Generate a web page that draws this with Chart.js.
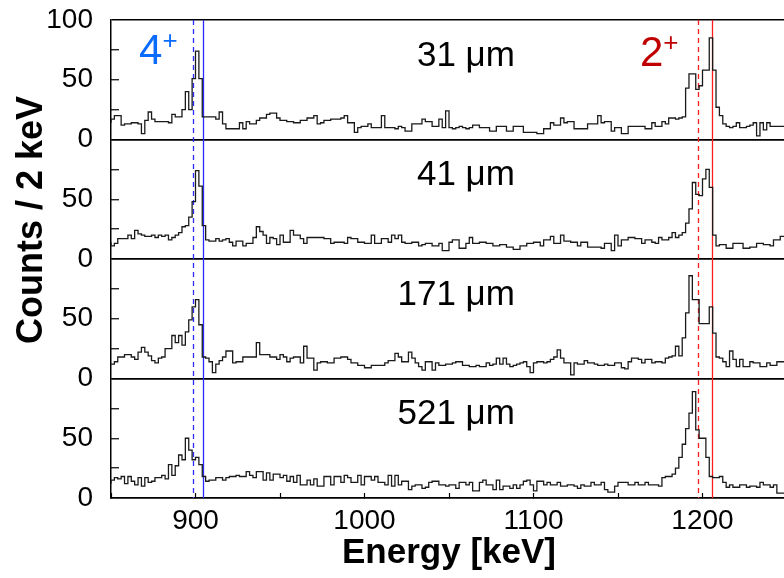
<!DOCTYPE html>
<html>
<head>
<meta charset="utf-8">
<script src="https://cdn.jsdelivr.net/npm/chart.js@4.4.1/dist/chart.umd.min.js"></script>
<style>
  html,body{margin:0;padding:0;background:#fff;}
  #wrap{width:784px;height:578px;overflow:hidden;position:relative;}
  #wrap canvas{position:absolute;left:0;top:0;}
</style>
</head>
<body>
<div id="wrap"><canvas id="chart" width="788" height="578"></canvas></div>
<script>
// bins of 2 keV from 850 keV
const E_START = 850;
const BIN = 2;

// counts per bin, one row = 10 bins
const t31 = [
  14,17,20,20,12,13,13,14,14,13,
  5,16,23,17,15,15,15,15,14,21,
  19,19,25,40,25,51,74,51,19,19,
  19,19,17,23,13,9,9,9,9,14,
  9,15,13,13,16,18,18,21,22,22,
  18,16,16,15,15,14,14,16,16,18,
  18,20,13,14,16,16,17,17,17,18,
  20,14,14,6,10,11,11,13,10,10,
  10,20,10,10,10,9,11,10,7,7,
  13,13,13,17,15,15,11,11,17,10,
  24,10,9,10,11,10,9,10,12,12,
  10,10,10,7,7,11,11,11,7,7,
  11,11,11,6,6,6,6,5,5,9,
  9,14,12,12,18,14,15,15,9,9,
  9,9,13,13,13,20,14,15,15,7,
  10,10,5,5,11,11,11,11,11,9,
  9,14,11,11,15,13,18,18,17,18,
  19,43,55,55,42,45,58,58,85,58,
  27,20,13,11,10,11,14,10,10,11,
  12,14,3,14,8,14,11,11,11,11
];
const t41 = [
  14,11,13,17,17,17,20,17,24,21,
  20,19,19,20,18,20,19,20,16,18,
  20,22,27,28,35,48,74,61,28,16,
  15,15,17,15,16,17,14,11,15,15,
  11,13,13,18,27,23,20,13,18,17,
  12,20,14,14,24,20,20,17,13,18,
  18,18,18,18,17,17,13,14,14,14,
  13,18,17,17,14,14,13,13,20,13,
  13,17,17,14,20,17,20,14,13,13,
  14,14,11,12,13,13,11,11,13,7,
  7,14,16,16,9,9,13,18,13,13,
  14,14,13,13,11,11,12,12,10,10,
  8,8,11,11,13,13,14,14,11,16,
  16,19,13,13,20,15,15,14,14,11,
  14,14,10,10,10,10,9,13,13,7,
  20,11,16,16,18,18,17,17,13,16,
  16,14,13,18,16,16,18,22,18,20,
  22,30,42,64,54,53,67,75,60,20,
  11,12,12,9,9,13,13,13,9,9,
  10,10,13,13,12,12,11,16,16,19
];
const t171 = [
  12,12,14,18,18,20,20,18,16,22,
  26,22,19,15,13,17,18,25,25,36,
  30,36,28,39,49,60,66,45,18,17,
  14,5,12,15,18,23,23,13,14,14,
  18,18,18,18,30,20,20,20,18,18,
  16,20,18,14,17,18,18,13,27,17,
  17,7,13,14,14,13,13,17,17,18,
  18,16,13,13,11,11,9,9,11,11,
  11,11,13,15,15,21,18,14,14,22,
  17,13,10,7,14,14,7,13,11,11,
  12,12,13,14,14,11,11,10,10,11,
  10,10,13,11,12,17,12,17,12,10,
  11,12,13,14,10,5,13,14,14,13,
  14,16,18,24,17,13,13,3,13,12,
  12,15,13,13,12,11,11,12,11,11,
  13,13,9,8,14,17,17,16,13,16,
  16,13,14,14,13,17,18,19,27,19,
  34,55,86,66,66,46,46,46,60,38,
  18,17,14,10,23,16,10,16,10,10,
  14,13,13,10,10,13,11,11,14,14
];
const t521 = [
  12,15,17,16,18,12,18,14,11,17,
  10,17,13,14,17,17,19,16,28,19,
  27,36,32,50,40,32,34,28,18,14,
  15,15,17,17,15,17,18,18,19,18,
  18,22,19,17,22,22,15,21,15,20,
  20,17,19,14,18,13,19,11,11,15,
  11,16,10,10,18,18,11,18,18,13,
  19,17,13,13,19,11,18,18,15,18,
  13,13,11,19,10,19,11,14,14,7,
  10,11,11,8,9,13,14,14,11,11,
  10,11,11,8,13,13,11,13,6,6,
  13,15,11,11,7,15,7,10,10,8,
  11,8,11,14,15,11,6,14,14,11,
  13,11,11,13,10,10,11,11,10,8,
  11,10,10,13,11,11,13,7,5,5,
  10,13,13,13,11,11,13,11,11,13,
  11,11,11,10,17,18,18,20,25,34,
  45,58,71,89,57,50,50,34,18,17,
  17,18,13,9,11,9,9,11,11,9,
  10,10,9,13,11,11,9,11,4,4
];

const panels = [t31, t41, t171, t521];
const panelLabels = ["31 μm", "41 μm", "171 μm", "521 μm"];
const yLabelTicks = [0, 50, 100];
const xLabelTicks = [900, 1000, 1100, 1200];
// 4+ and 2+ lines: dashed, solid
const lines4 = [898.4, 904.4];
const lines2 = [1197.5, 1205.6];

const FONT = "'Liberation Sans', Arial, sans-serif";
const BLUE = "#2a2aff";
const RED = "#ff1c1c";

function histo(arr){
  let pts = arr.map((v,i)=>({x:E_START+BIN*i, y:v}));
  pts.push({x:E_START+BIN*arr.length, y:arr[arr.length-1]});
  return pts;
}

function yScale(isTop){
  return {
    type:"linear", position:"left", stack:"panels", stackWeight:1,
    min:0, max:100,
    afterFit(s){ s.width = 111; s.paddingTop = 0; s.paddingBottom = 0; },
    ticks:{
      stepSize:25, autoSkip:false, padding:26, color:"#000",
      font:{size:28, family:FONT},
      callback:v => (yLabelTicks.includes(v) && (isTop || v!==100)) ? String(v) : ""
    },
    grid:{
      drawOnChartArea:true,
      color:c => (c.tick && (c.tick.value===0 || c.tick.value===100)) ? "#000" : "rgba(0,0,0,0)",
      lineWidth:1.5,
      tickLength:-8,
      tickColor:c => (c.tick && c.tick.value%100!==0) ? "#000" : "rgba(0,0,0,0)",
      tickWidth:1.2
    },
    border:{display:true, color:"#000", width:1.5}
  };
}

// vertical gamma lines
const markerPlugin = {
  id:"markers",
  beforeDatasetsDraw(chart){
    const {ctx, chartArea:a, scales:{x}} = chart;
    const all = [
      {e:lines4[0], c:BLUE, d:[5,4]}, {e:lines4[1], c:BLUE, d:[]},
      {e:lines2[0], c:RED, d:[5,4]}, {e:lines2[1], c:RED, d:[]}
    ];
    ctx.save();
    ctx.lineWidth = 1.3;
    all.forEach(m=>{
      let px = Math.round(x.getPixelForValue(m.e))+0.5;
      ctx.strokeStyle = m.c;
      ctx.setLineDash(m.d);
      ctx.beginPath();
      ctx.moveTo(px, a.top);
      ctx.lineTo(px, a.bottom);
      ctx.stroke();
    });
    ctx.restore();
  }
};

// texts inside the panels and the y title
const textPlugin = {
  id:"texts",
  afterDatasetsDraw(chart){
    const {ctx, scales} = chart;
    const x = scales.x;
    ctx.save();
    ctx.fillStyle = "#000";
    ctx.font = "35px " + FONT;
    ctx.textAlign = "right";
    ctx.textBaseline = "middle";
    panelLabels.forEach((t,k)=>{
      const y = scales["p"+(k+1)];
      ctx.fillText(t, x.getPixelForValue(1089), y.getPixelForValue(70));
    });

    const top = scales.p1;
    function level(txt, e, c, color){
      let px = x.getPixelForValue(e), py = top.getPixelForValue(c);
      ctx.fillStyle = color;
      ctx.textAlign = "left";
      ctx.textBaseline = "alphabetic";
      ctx.font = "42px " + FONT;
      ctx.fillText(txt, px, py);
      let w = ctx.measureText(txt).width;
      ctx.font = "26px " + FONT;
      ctx.fillText("+", px + w, py - 15);
    }
    level("4", 866.6, 63, "#0a6cff");
    level("2", 1163, 61.5, "#c00000");

    ctx.fillStyle = "#000";
    ctx.translate(42, 220);
    ctx.rotate(-Math.PI/2);
    ctx.font = "bold 36px " + FONT;
    ctx.textAlign = "center";
    ctx.textBaseline = "alphabetic";
    ctx.fillText("Counts / 2 keV", 0, 0);
    ctx.restore();
  }
};

const datasets = panels.map((arr,k)=>({
  data:histo(arr),
  xAxisID:"x",
  yAxisID:"p"+(k+1),
  stepped:"after",
  borderColor:"#1a1a1a",
  borderWidth:1.3,
  pointRadius:0,
  fill:false
}));

new Chart(document.getElementById("chart"), {
  type:"line",
  data:{datasets},
  options:{
    responsive:false,
    animation:false,
    devicePixelRatio:1,
    layout:{padding:{top:20, left:0, right:1, bottom:0}},
    plugins:{legend:{display:false}, tooltip:{enabled:false}},
    scales:{
      x:{
        type:"linear", position:"bottom", min:850, max:1250,
        afterFit(s){ s.height = 80; s.paddingLeft = 0; s.paddingRight = 0; },
        ticks:{
          stepSize:50, autoSkip:false, maxRotation:0, padding:11, color:"#000",
          font:{size:28, family:FONT},
          callback:v => xLabelTicks.includes(v) ? String(v) : ""
        },
        grid:{drawOnChartArea:false, tickLength:-5, tickColor:"#000", tickWidth:1.2},
        border:{display:true, color:"#000", width:1.5},
        title:{display:true, text:"Energy [keV]", color:"#000",
          font:{size:35, weight:"bold", family:FONT}, padding:{top:0, bottom:4}}
      },
      p4:yScale(false),
      p3:yScale(false),
      p2:yScale(false),
      p1:yScale(true)
    }
  },
  plugins:[markerPlugin, textPlugin]
});
</script>
</body>
</html>
